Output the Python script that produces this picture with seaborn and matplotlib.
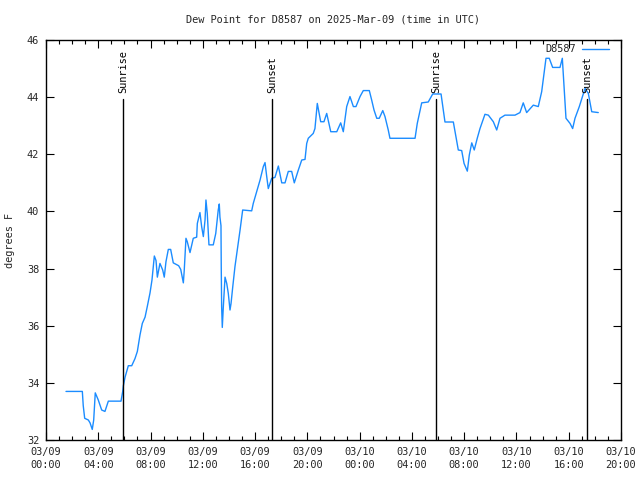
import matplotlib
matplotlib.use("Agg")
import matplotlib.pyplot as plt
import seaborn as sns
import pandas as pd
from matplotlib.ticker import MultipleLocator

# hours since 03/09 00:00 UTC
hours = [1.53, 2.78, 2.85, 2.96, 3.24, 3.37, 3.54, 3.65, 3.77, 4.00, 4.26, 4.51, 4.77,
         5.74, 5.87, 5.92, 6.05, 6.30, 6.56, 6.81, 6.99, 7.19, 7.37, 7.58, 7.75, 7.96,
         8.11, 8.29, 8.42, 8.52, 8.72, 8.93, 9.05, 9.18, 9.36, 9.54, 9.74, 9.95, 10.15,
         10.31, 10.51, 10.58, 10.71, 10.81, 11.02, 11.27, 11.53, 11.58, 11.78, 11.91,
         12.04, 12.17, 12.24, 12.34, 12.47, 12.80, 12.99, 13.18, 13.26, 13.31, 13.39,
         13.41, 13.44, 13.49, 13.57, 13.70, 13.83, 13.95, 14.08, 14.16, 14.29, 14.46,
         14.67, 14.85, 15.05, 15.74, 15.86, 16.12, 16.38, 16.63, 16.76, 16.89, 17.01,
         17.14, 17.27, 17.52, 17.78, 18.04, 18.29, 18.54, 18.80, 19.00, 19.31, 19.57,
         19.82, 19.95, 20.07, 20.45, 20.58, 20.76, 21.02, 21.27, 21.48, 21.79, 22.25,
         22.55, 22.75, 23.01, 23.26, 23.52, 23.72, 24.03, 24.28, 24.74, 24.92, 25.10,
         25.31, 25.50, 25.77, 25.94, 26.19, 26.32, 28.24, 28.41, 28.75, 29.25, 29.59,
         30.23, 30.53, 31.17, 31.37, 31.55, 31.81, 31.99, 32.24, 32.39, 32.58, 32.77,
         33.00, 33.21, 33.59, 33.85, 34.23, 34.49, 34.74, 35.12, 35.89, 36.27, 36.52,
         36.78, 37.29, 37.67, 37.93, 38.26, 38.51, 38.77, 39.33, 39.51, 39.66, 39.79,
         40.10, 40.30, 40.48, 40.81, 41.25, 41.50, 41.76, 42.26]
dewpoint = [33.7, 33.7, 33.2, 32.76, 32.7, 32.6, 32.37, 32.7, 33.65, 33.4, 33.05, 33.0, 33.36,
            33.36, 33.7, 33.9, 34.2, 34.6, 34.6, 34.85, 35.1, 35.67, 36.08, 36.3, 36.67, 37.15,
            37.6, 38.44, 38.28, 37.7, 38.18, 37.95, 37.7, 38.24, 38.67, 38.67, 38.2, 38.15, 38.1,
            37.97, 37.5, 37.95, 39.06, 38.94, 38.56, 39.06, 39.1, 39.58, 39.96, 39.47,
            39.12, 39.7, 40.4, 39.93, 38.83, 38.83, 39.23, 40.05, 40.26, 39.8, 39.5,
            38.07, 36.67, 35.94, 36.67, 37.7, 37.48, 37.13, 36.55, 36.78, 37.36, 38.07,
            38.76, 39.35, 40.05, 40.02, 40.28, 40.69, 41.1, 41.57, 41.71, 41.22, 40.8,
            40.98, 41.16, 41.19, 41.59, 41.0, 41.0, 41.4, 41.4, 41.0, 41.45, 41.8,
            41.82, 42.38, 42.56, 42.73, 42.9, 43.78, 43.14, 43.14, 43.43, 42.79, 42.79,
            43.1, 42.79, 43.67, 44.02, 43.67, 43.67, 44.02, 44.23, 44.23, 43.9, 43.55,
            43.26, 43.26, 43.53, 43.32, 42.85, 42.56, 42.56, 43.08, 43.8, 43.83, 44.11,
            44.11, 43.13, 43.13, 42.62, 42.15, 42.13, 41.68, 41.41, 41.97, 42.4, 42.15,
            42.56, 42.9, 43.4, 43.37, 43.14, 42.85, 43.26, 43.37, 43.37, 43.46, 43.8,
            43.46, 43.72, 43.67, 44.19, 45.36, 45.36, 45.04, 45.04, 45.36, 44.25, 43.26,
            43.08, 42.9, 43.26, 43.67, 44.31, 44.13, 43.49, 43.46]

event_names = ["Sunrise", "Sunset", "Sunrise", "Sunset"]
event_hours = [5.92, 17.32, 29.87, 41.38]

tick_hours = [0, 4, 8, 12, 16, 20, 24, 28, 32, 36, 40, 44]
tick_labels = ["03/09\n00:00", "03/09\n04:00", "03/09\n08:00", "03/09\n12:00",
               "03/09\n16:00", "03/09\n20:00", "03/10\n00:00", "03/10\n04:00",
               "03/10\n08:00", "03/10\n12:00", "03/10\n16:00", "03/10\n20:00"]
y_ticks = [32, 34, 36, 38, 40, 42, 44, 46]

sns.set_theme(style="white")
plt.rcParams['font.family'] = ['DejaVu Sans Mono']
FS = 7.4

fig = plt.figure(figsize=(6.4, 4.8), dpi=100)
ax = fig.add_axes([46/640, 1-440/480, (621-46)/640, 400/480])

df = pd.DataFrame({"hours": hours, "dewpoint": dewpoint})
sns.lineplot(data=df, x="hours", y="dewpoint", ax=ax, color="#1b8cff",
             linewidth=1.0, label="D8587", estimator=None, sort=False)

for name, h in zip(event_names, event_hours):
    ax.plot([h, h], [32, 43.93], color="black", linewidth=1.0)
    ax.text(h, 44.15, name, rotation=90, ha="center", va="bottom",
            fontsize=FS, color="black")

ax.set_xlim(0, 44)
ax.set_ylim(32, 46)
ax.set_xticks(tick_hours)
ax.set_xticklabels(tick_labels, fontsize=FS, linespacing=1.4)
ax.xaxis.set_minor_locator(MultipleLocator(1))
ax.set_yticks(y_ticks)
ax.set_yticklabels([str(v) for v in y_ticks], fontsize=FS)
ax.tick_params(axis="both", which="major", direction="in", length=6, width=0.8,
               top=True, right=True, bottom=True, left=True, color="black", pad=5)
ax.tick_params(axis="x", which="minor", direction="in", length=3, width=0.8,
               top=True, bottom=True, color="black")
ax.set_xlabel("")
ax.set_ylabel("")
for s in ax.spines.values():
    s.set_color("black")
    s.set_linewidth(1.0)

leg = ax.legend(loc="upper right", frameon=False, fontsize=FS, markerfirst=False,
                handlelength=2.6, borderaxespad=0.2, handletextpad=0.6,
                bbox_to_anchor=(0.99, 1.005))

fig.text(333/640, 1-19/480, "Dew Point for D8587 on 2025-Mar-09 (time in UTC)",
         ha="center", va="center", fontsize=FS)
fig.text(10/640, 1-240/480, "degrees F", rotation=90, ha="center", va="center",
         fontsize=FS)

fig.savefig("out.png", dpi=100, facecolor="white")
